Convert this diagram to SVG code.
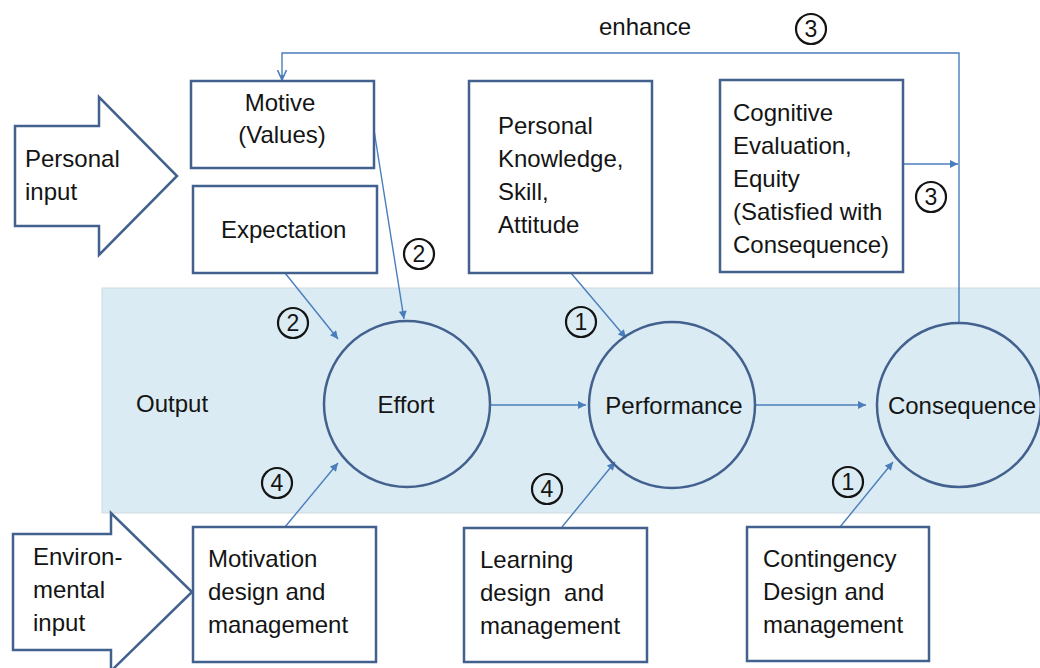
<svg xmlns="http://www.w3.org/2000/svg" width="1040" height="668" viewBox="0 0 1040 668">
  <defs>
    <style>
      .lbl { font-family: "Liberation Sans", Arial, sans-serif; font-size: 24px; fill: #141414; }
      .num { font-family: "Liberation Sans", Arial, sans-serif; font-size: 23px; fill: #141414; text-anchor: middle; }
      .box { fill: #ffffff; stroke: #42618e; stroke-width: 2.5; }
      .node { fill: none; stroke: #42618e; stroke-width: 2.5; }
      .big-arrow { fill: #ffffff; stroke: #42618e; stroke-width: 2.5; stroke-linejoin: miter; }
      .conn { fill: none; stroke: #4a7ebb; stroke-width: 1.4; }
      .tag { fill: none; stroke: #141414; stroke-width: 2.2; }
    </style>
    <marker id="head" viewBox="0 0 10 10" refX="10" refY="5" markerWidth="9" markerHeight="8" markerUnits="userSpaceOnUse" orient="auto">
      <path d="M0,0 L10,5 L0,10 Z" fill="#4a7ebb"/>
    </marker>
    <marker id="vhead" viewBox="0 0 10 10" refX="10" refY="5" markerWidth="10" markerHeight="10" markerUnits="userSpaceOnUse" orient="auto">
      <path d="M0,0.5 L10,5 L0,9.5" fill="none" stroke="#4a7ebb" stroke-width="1.6"/>
      <path d="M5,3 L10,5 L5,7 Z" fill="#4a7ebb"/>
    </marker>
  </defs>

  <rect width="1040" height="668" fill="#ffffff"/>

  <!-- output band -->
  <g id="output-band">
    <rect x="102" y="288" width="940" height="225" fill="#dbebf3" stroke="#cfd9e0" stroke-width="1"/>
    <text class="lbl" x="136" y="412">Output</text>
  </g>

  <!-- input arrows -->
  <g id="personal-input">
    <polygon class="big-arrow" points="15,126 99,126 99,97 177,176 99,255 99,226 15,226"/>
    <text class="lbl" x="25" y="167">Personal</text>
    <text class="lbl" x="25" y="200">input</text>
  </g>
  <g id="environmental-input">
    <polygon class="big-arrow" points="13,534 111,534 111,513 192,592 111,671 111,650 13,650"/>
    <text class="lbl" x="33" y="565">Environ-</text>
    <text class="lbl" x="33" y="598">mental</text>
    <text class="lbl" x="33" y="631">input</text>
  </g>

  <!-- connectors -->
  <g id="connectors">
    <path class="conn" d="M959,322 V53 H282 V80" marker-end="url(#vhead)"/>
    <path class="conn" d="M903,164 H958" marker-end="url(#head)"/>
    <path class="conn" d="M374,130 L404,319" marker-end="url(#head)"/>
    <path class="conn" d="M285,273 L338,339" marker-end="url(#head)"/>
    <path class="conn" d="M571,273 L626,338" marker-end="url(#head)"/>
    <path class="conn" d="M490,405 H586" marker-end="url(#head)"/>
    <path class="conn" d="M755,405 H866" marker-end="url(#head)"/>
    <path class="conn" d="M285,527 L338,463" marker-end="url(#head)"/>
    <path class="conn" d="M562,527 L615,462" marker-end="url(#head)"/>
    <path class="conn" d="M840,527 L893,462" marker-end="url(#head)"/>
  </g>

  <!-- personal input boxes -->
  <g id="motive">
    <rect class="box" x="191" y="81" width="183" height="87"/>
    <text class="lbl" x="280" y="111" text-anchor="middle">Motive</text>
    <text class="lbl" x="282" y="143" text-anchor="middle">(Values)</text>
  </g>
  <g id="expectation">
    <rect class="box" x="193" y="186" width="184" height="87"/>
    <text class="lbl" x="221" y="238">Expectation</text>
  </g>
  <g id="knowledge">
    <rect class="box" x="469" y="81" width="183" height="192"/>
    <text class="lbl" x="498" y="134">Personal</text>
    <text class="lbl" x="498" y="167">Knowledge,</text>
    <text class="lbl" x="498" y="200">Skill,</text>
    <text class="lbl" x="498" y="233">Attitude</text>
  </g>
  <g id="cognitive-evaluation">
    <rect class="box" x="720" y="80" width="183" height="192"/>
    <text class="lbl" x="733" y="121">Cognitive</text>
    <text class="lbl" x="733" y="154">Evaluation,</text>
    <text class="lbl" x="733" y="187">Equity</text>
    <text class="lbl" x="733" y="220">(Satisfied with</text>
    <text class="lbl" x="733" y="253">Consequence)</text>
  </g>

  <!-- process nodes -->
  <g id="effort">
    <circle class="node" cx="407" cy="404" r="83"/>
    <text class="lbl" x="406" y="413" text-anchor="middle">Effort</text>
  </g>
  <g id="performance">
    <circle class="node" cx="672" cy="405" r="83"/>
    <text class="lbl" x="674" y="414" text-anchor="middle">Performance</text>
  </g>
  <g id="consequence">
    <circle class="node" cx="959" cy="405" r="82"/>
    <text class="lbl" x="962" y="414" text-anchor="middle">Consequence</text>
  </g>

  <!-- environmental boxes -->
  <g id="motivation-design">
    <rect class="box" x="193" y="527" width="183" height="135"/>
    <text class="lbl" x="208" y="567">Motivation</text>
    <text class="lbl" x="208" y="600">design and</text>
    <text class="lbl" x="208" y="633">management</text>
  </g>
  <g id="learning-design">
    <rect class="box" x="464" y="528" width="183" height="134"/>
    <text class="lbl" x="480" y="568">Learning</text>
    <text class="lbl" x="480" y="601" xml:space="preserve">design  and</text>
    <text class="lbl" x="480" y="634">management</text>
  </g>
  <g id="contingency-design">
    <rect class="box" x="747" y="527" width="182" height="134"/>
    <text class="lbl" x="763" y="567">Contingency</text>
    <text class="lbl" x="763" y="600">Design and</text>
    <text class="lbl" x="763" y="633">management</text>
  </g>

  <!-- feedback label and step tags -->
  <g id="enhance-label">
    <text class="lbl" x="599" y="35">enhance</text>
  </g>
  <g id="step-tags">
    <circle class="tag" cx="811" cy="29" r="15"/><text class="num" x="811" y="37">3</text>
    <circle class="tag" cx="931" cy="197" r="15"/><text class="num" x="931" y="205">3</text>
    <circle class="tag" cx="419" cy="254" r="15"/><text class="num" x="419" y="262">2</text>
    <circle class="tag" cx="293" cy="323" r="15"/><text class="num" x="293" y="331">2</text>
    <circle class="tag" cx="581" cy="322" r="15"/><text class="num" x="581" y="330">1</text>
    <circle class="tag" cx="277" cy="483" r="15"/><text class="num" x="277" y="491">4</text>
    <circle class="tag" cx="547" cy="489" r="15"/><text class="num" x="547" y="497">4</text>
    <circle class="tag" cx="848" cy="482" r="15"/><text class="num" x="848" y="490">1</text>
  </g>
</svg>
